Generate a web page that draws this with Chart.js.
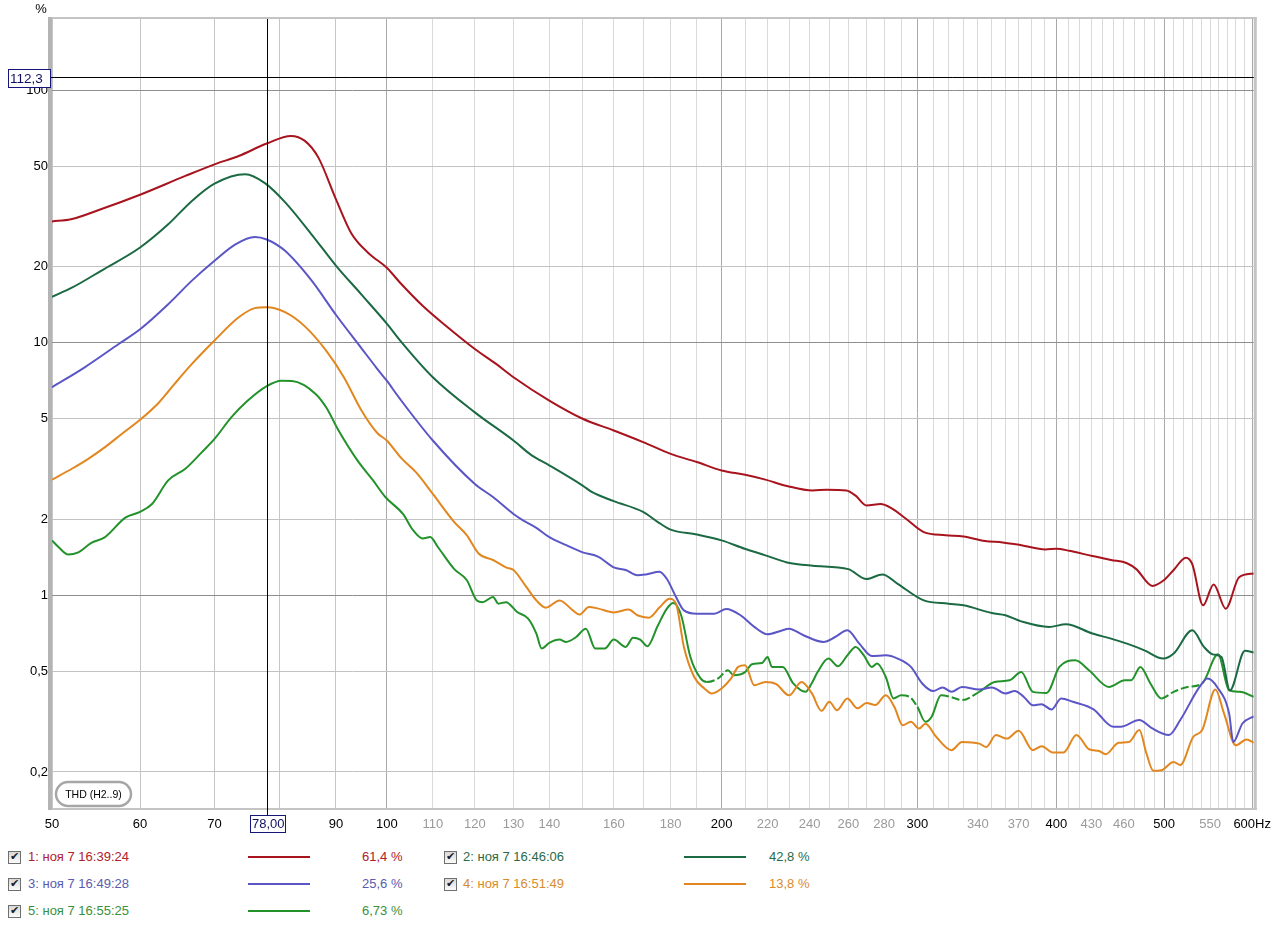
<!DOCTYPE html>
<html>
<head>
<meta charset="utf-8">
<title>THD (H2..9)</title>
<script src="https://cdn.jsdelivr.net/npm/chart.js@4.4.1/dist/chart.umd.min.js"></script>
<style>
  html, body { margin: 0; padding: 0; background: #fff; }
  body { width: 1280px; height: 927px; position: relative; overflow: hidden; font-family: "Liberation Sans", Arial, sans-serif; }
  #wrap { position: absolute; left: 0; top: 0; width: 1280px; height: 840px; }
  .lg { position: absolute; font-size: 13px; line-height: 16px; white-space: nowrap; }
  .cb { position: absolute; width: 11px; height: 11px; border: 1px solid #6f6f6f; background: linear-gradient(#d8d8d8, #fbfbfb); }
  .cb span { position: absolute; left: 1px; top: -3px; font-size: 11px; line-height: 16px; color: #1e1e1e; font-family: "DejaVu Sans", sans-serif; }
  .sw { position: absolute; height: 2px; width: 62px; }
</style>
</head>
<body>
<div id="wrap"><canvas id="thd" width="1280" height="840"></canvas></div>
<div id="legend"></div>
<script>
/* THD vs frequency, 5 measurements, REW-style log/log plot */
var FONT = '"Liberation Sans", Arial, Helvetica, sans-serif';

// 1: ноя 7 16:39:24
var F1 = [50, 52, 55.4, 60, 65.9, 70, 73.6, 78, 82, 84.4, 86.8, 90, 93, 96.3, 100, 103, 107.7, 113, 120, 125.4, 130, 140, 150, 160, 170, 180, 190, 200, 210, 219, 229, 241.5, 248.6, 259, 264, 270, 278, 284, 293, 304, 318, 330, 345, 358, 372, 391, 400, 411, 431, 448, 463, 472, 488, 500, 510, 523, 530, 542, 554, 568, 584, 602];
var V1 = [30.2, 30.8, 33.8, 38.5, 45.7, 50.8, 54.8, 61.4, 65.8, 62.9, 54.0, 37.0, 26.9, 22.6, 19.8, 17.1, 14.0, 11.67, 9.44, 8.24, 7.30, 5.90, 5.00, 4.49, 4.04, 3.63, 3.37, 3.12, 3.00, 2.87, 2.71, 2.60, 2.62, 2.60, 2.48, 2.27, 2.30, 2.22, 2.01, 1.78, 1.73, 1.71, 1.64, 1.62, 1.58, 1.52, 1.53, 1.50, 1.43, 1.38, 1.34, 1.27, 1.09, 1.15, 1.26, 1.41, 1.33, 0.913, 1.105, 0.886, 1.18, 1.22];

// 2: ноя 7 16:46:06
var F2 = [50, 52.1, 55.4, 60, 63.6, 66.8, 70, 74.6, 77.7, 81, 85.6, 90, 94.9, 100, 103, 110, 120, 130, 135, 140, 150, 153, 160, 170, 175.3, 180, 190, 200, 209.8, 219, 229, 241.5, 260, 270, 279, 288, 304, 320, 330, 350, 360, 372, 394, 408, 431, 448, 463, 480, 499, 510, 530, 543, 553, 563, 573, 591, 602];
var V2 = [15.2, 16.5, 19.3, 23.8, 29.4, 36.4, 42.6, 46.4, 42.8, 36.0, 26.8, 20.2, 15.5, 11.9, 10.1, 7.30, 5.30, 4.10, 3.58, 3.27, 2.72, 2.56, 2.36, 2.14, 1.95, 1.82, 1.74, 1.65, 1.53, 1.44, 1.35, 1.31, 1.27, 1.16, 1.21, 1.11, 0.955, 0.927, 0.913, 0.851, 0.834, 0.789, 0.750, 0.768, 0.706, 0.674, 0.644, 0.606, 0.562, 0.588, 0.727, 0.625, 0.584, 0.57, 0.421, 0.603, 0.594];

// 3: ноя 7 16:49:28
var F3 = [50, 53.5, 57.4, 60, 63.6, 66.8, 70, 73.1, 76.1, 78, 81, 85.6, 90, 94.9, 98, 100, 102.6, 110, 120, 124.6, 130, 132.6, 136.3, 140, 145, 150, 155, 160, 164, 168, 171, 175.9, 178.6, 182, 185, 190, 197, 202, 208, 214, 220, 226, 230, 237, 247, 253, 259.5, 266, 273, 281, 288, 296, 303, 310, 316, 322, 329, 341, 350, 360, 367, 374, 381, 388, 396, 404, 414, 432, 450, 457, 475, 487, 505, 517, 538, 547, 558, 572, 577, 588, 602];
var V3 = [6.66, 7.99, 9.88, 11.3, 14.2, 17.6, 21.1, 24.5, 26.2, 25.6, 23.1, 17.6, 12.9, 9.5, 7.9, 7.07, 6.05, 4.10, 2.76, 2.45, 2.10, 1.98, 1.85, 1.70, 1.58, 1.48, 1.42, 1.29, 1.26, 1.20, 1.21, 1.24, 1.16, 0.985, 0.872, 0.846, 0.846, 0.883, 0.834, 0.750, 0.701, 0.723, 0.738, 0.695, 0.654, 0.684, 0.727, 0.644, 0.575, 0.579, 0.562, 0.521, 0.448, 0.418, 0.432, 0.415, 0.434, 0.424, 0.432, 0.409, 0.418, 0.396, 0.367, 0.371, 0.353, 0.391, 0.379, 0.354, 0.302, 0.302, 0.321, 0.299, 0.280, 0.321, 0.434, 0.469, 0.434, 0.341, 0.263, 0.311, 0.332];

// 4: ноя 7 16:51:49
var F4 = [50, 52.1, 53.9, 55.8, 57.8, 60, 62.4, 64.5, 66.8, 70, 73.6, 76.1, 78, 81, 84.4, 88.2, 91.5, 94.9, 98, 100, 103, 106.5, 110, 115, 118, 121, 124.6, 128, 130, 133.5, 136.3, 139, 143, 147, 149, 152, 155, 160, 165, 168, 172, 176, 179.6, 182, 185, 189, 193, 196, 200, 204, 207, 210, 214, 219, 224, 230, 236, 241, 246, 250, 254, 259.5, 265, 270, 275, 281, 286, 291, 296, 301, 305, 312, 322, 329, 341, 346, 353, 361, 370, 381, 388, 397, 406, 417, 428, 437, 443, 455, 465, 475, 482, 489, 497, 510, 517, 531, 541, 556, 566, 580, 593, 602];
var V4 = [2.87, 3.17, 3.47, 3.86, 4.36, 4.95, 5.8, 6.9, 8.24, 10.2, 12.6, 13.7, 13.8, 13.2, 11.6, 9.3, 7.3, 5.39, 4.4, 4.10, 3.5, 3.03, 2.52, 1.95, 1.73, 1.46, 1.38, 1.29, 1.26, 1.08, 0.955, 0.894, 0.955, 0.872, 0.839, 0.899, 0.886, 0.856, 0.878, 0.834, 0.816, 0.899, 0.970, 0.927, 0.625, 0.475, 0.428, 0.409, 0.428, 0.469, 0.521, 0.529, 0.441, 0.454, 0.445, 0.402, 0.454, 0.411, 0.349, 0.379, 0.351, 0.391, 0.357, 0.375, 0.368, 0.402, 0.362, 0.306, 0.316, 0.297, 0.310, 0.275, 0.244, 0.263, 0.259, 0.251, 0.280, 0.271, 0.291, 0.244, 0.253, 0.239, 0.239, 0.280, 0.246, 0.242, 0.235, 0.261, 0.263, 0.293, 0.237, 0.202, 0.203, 0.219, 0.213, 0.275, 0.293, 0.424, 0.341, 0.255, 0.269, 0.261];

// 5: ноя 7 16:55:25
var F5 = [50, 50.7, 51.7, 52.8, 54.2, 55.8, 58.2, 60, 61.5, 63.6, 65.9, 68.2, 70, 72.5, 75, 78, 80.4, 82.2, 86.3, 88.2, 90.5, 94.1, 97.2, 99.7, 103.4, 105.6, 107.7, 109.4, 111.2, 115, 118, 120.5, 122, 124.6, 126, 128, 131, 134, 136.3, 137.8, 140, 143, 145, 148, 151, 154, 157, 160, 164, 166.5, 169, 171.5, 175.3, 178.6, 181, 184, 187.5, 191.5, 194, 198.6, 202.7, 205, 210, 213, 217.5, 220, 222, 227, 232, 238, 241, 244, 249.5, 254.5, 259.5, 264, 268.5, 273, 276, 281, 285.5, 290, 295, 300, 305, 309, 315, 321, 329, 341, 352, 363, 372, 381, 392, 402.5, 416, 428, 446, 461, 467, 476, 486, 497, 510, 525, 541, 559, 572, 585, 602];
var V5 = [1.65, 1.55, 1.45, 1.48, 1.61, 1.70, 2.03, 2.14, 2.30, 2.85, 3.17, 3.69, 4.16, 5.07, 5.90, 6.73, 7.07, 7.05, 6.27, 5.55, 4.49, 3.42, 2.85, 2.45, 2.10, 1.81, 1.68, 1.70, 1.55, 1.27, 1.15, 0.955, 0.94, 0.985, 0.927, 0.94, 0.859, 0.809, 0.706, 0.616, 0.648, 0.668, 0.654, 0.684, 0.738, 0.616, 0.616, 0.668, 0.625, 0.68, 0.668, 0.629, 0.76, 0.886, 0.932, 0.83, 0.570, 0.469, 0.454, 0.469, 0.505, 0.483, 0.497, 0.534, 0.54, 0.57, 0.521, 0.521, 0.448, 0.415, 0.448, 0.497, 0.562, 0.524, 0.579, 0.625, 0.579, 0.521, 0.537, 0.475, 0.391, 0.402, 0.397, 0.362, 0.316, 0.331, 0.402, 0.397, 0.385, 0.415, 0.454, 0.461, 0.497, 0.415, 0.411, 0.521, 0.553, 0.505, 0.434, 0.461, 0.461, 0.521, 0.448, 0.391, 0.415, 0.434, 0.448, 0.584, 0.421, 0.415, 0.397];
// frequency spans where trace 5 is drawn broken
var DASH5 = [[193, 200], [288, 300], [310, 335], [490, 540]];

var NAMES = ["1: ноя 7 16:39:24", "2: ноя 7 16:46:06", "3: ноя 7 16:49:28", "4: ноя 7 16:51:49", "5: ноя 7 16:55:25"];
var AT_CURSOR = ["61,4 %", "42,8 %", "25,6 %", "13,8 %", "6,73 %"];
var LINE_COL = ["#a8141e", "#1c6a44", "#5b56c6", "#e2871f", "#23922b"];
var TEXT_COL = ["#b0202a", "#2a6a4a", "#5a5aae", "#d98c2e", "#3a8f3a"];

var X_GRID = [50, 60, 70, 80, 90, 100, 110, 120, 130, 140, 150, 160, 170, 180, 190, 200, 210, 220, 230, 240, 250, 260, 270, 280, 290, 300, 310, 320, 330, 340, 350, 360, 370, 380, 390, 400, 410, 420, 430, 440, 450, 460, 470, 480, 490, 500, 510, 520, 530, 540, 550, 560, 570, 580, 590, 600];
var X_LABELS = [50, 60, 70, 90, 100, 110, 120, 130, 140, 160, 180, 200, 220, 240, 260, 280, 300, 340, 370, 400, 430, 460, 500, 550, 600];
var X_DARK = [50, 60, 70, 90, 100, 200, 300, 400, 500, 600];
var Y_TICKS = [0.2, 0.5, 1, 2, 5, 10, 20, 50, 100];
var CURSOR_F = 78, CURSOR_V = 112.3;

function pts(f, v) { return f.map(function (x, i) { return { x: x, y: v[i] }; }); }
function inDash(f) {
  for (var i = 0; i < DASH5.length; i++) if (f >= DASH5[i][0] && f < DASH5[i][1]) return true;
  return false;
}

var SERIES = [[F1, V1], [F2, V2], [F3, V3], [F4, V4], [F5, V5]];
var datasets = SERIES.map(function (s, i) {
  var d = { label: NAMES[i], data: pts(s[0], s[1]), borderColor: LINE_COL[i], backgroundColor: LINE_COL[i],
            borderWidth: 2, pointRadius: 0, fill: false, cubicInterpolationMode: "monotone" };
  if (i === 4) d.segment = { borderDash: function (c) { return inDash(c.p0.parsed.x) ? [8, 3] : undefined; } };
  return d;
});

function box(ctx, x, y, w, h, txt, size) {
  ctx.fillStyle = "#fff"; ctx.fillRect(x, y, w, h);
  ctx.strokeStyle = "#15157a"; ctx.lineWidth = 1; ctx.strokeRect(x + 0.5, y + 0.5, w, h);
  ctx.fillStyle = "#101060"; ctx.font = size + "px " + FONT;
  ctx.textAlign = "left"; ctx.textBaseline = "middle";
  ctx.fillText(txt, x + 2, y + h / 2 + 1);
}

var overlay = {
  id: "overlay",
  afterDraw: function (chart) {
    var ctx = chart.ctx, a = chart.chartArea, sx = chart.scales.x, sy = chart.scales.y;
    ctx.save();
    // frame
    ctx.fillStyle = "#c4c4c4"; ctx.fillRect(48, a.top - 2, a.right - 45, 2);
    ctx.fillRect(a.right, a.top - 2, 3, a.bottom - a.top + 4);
    ctx.fillRect(48, a.bottom, a.right - 45, 2);
    ctx.fillStyle = "#b4b4b4"; ctx.fillRect(48, a.top - 2, 4, a.bottom - a.top + 4);
    // THD tag
    ctx.beginPath(); ctx.roundRect(56, 782, 75, 24, 12);
    ctx.fillStyle = "#fff"; ctx.fill(); ctx.lineWidth = 2.5; ctx.strokeStyle = "#a6a6a6"; ctx.stroke();
    ctx.fillStyle = "#000"; ctx.font = "10.5px " + FONT; ctx.textAlign = "center"; ctx.textBaseline = "middle";
    ctx.fillText("THD (H2..9)", 93.5, 795);
    // cursor
    var cx = Math.round(sx.getPixelForValue(CURSOR_F)) + 0.5, cy = Math.round(sy.getPixelForValue(CURSOR_V)) + 0.5;
    ctx.strokeStyle = "#000"; ctx.lineWidth = 1;
    ctx.beginPath(); ctx.moveTo(cx, a.top); ctx.lineTo(cx, 815); ctx.stroke();
    ctx.beginPath(); ctx.moveTo(50, cy); ctx.lineTo(a.right, cy); ctx.stroke();
    box(ctx, 8, Math.round(cy) - 9, 42, 18, "112,3", 13.5);
    box(ctx, Math.round(cx) - 18, 815, 35, 17, "78,00", 13);
    // unit
    ctx.fillStyle = "#000"; ctx.font = "13px " + FONT; ctx.textAlign = "center"; ctx.textBaseline = "middle";
    ctx.fillText("%", 41, 9);
    ctx.restore();
  }
};

new Chart(document.getElementById("thd"), {
  type: "line",
  data: { datasets: datasets },
  plugins: [overlay],
  options: {
    responsive: false, animation: false, devicePixelRatio: 1,
    layout: { padding: { top: 19, right: 25, left: 0, bottom: 0 } },
    plugins: { legend: { display: false }, tooltip: { enabled: false } },
    scales: {
      x: {
        type: "logarithmic", min: 50, max: 602,
        afterBuildTicks: function (s) { s.ticks = X_GRID.map(function (v) { return { value: v }; }); },
        afterFit: function (s) { s.height = 32; },
        border: { display: false },
        grid: {
          drawTicks: false, lineWidth: 1,
          color: function (c) {
            var v = c.tick ? c.tick.value : 0;
            if (v % 100 === 0) return "#a9a9a9";
            if (v < 100) return "#c6c6c6";
            return "#dadada";
          }
        },
        ticks: {
          autoSkip: false, maxRotation: 0, minRotation: 0, padding: 9,
          font: { family: FONT, size: 13 },
          color: function (c) { return X_DARK.indexOf(c.tick.value) >= 0 ? "#000" : "#9a9a9a"; },
          callback: function (v) {
            if (X_LABELS.indexOf(v) < 0) return "";
            return v === 600 ? "600Hz" : String(v);
          }
        }
      },
      y: {
        type: "logarithmic", min: 0.144, max: 191,
        afterBuildTicks: function (s) { s.ticks = Y_TICKS.map(function (v) { return { value: v }; }); },
        afterFit: function (s) { s.width = 52; },
        border: { display: false },
        grid: {
          drawTicks: false, lineWidth: 1,
          color: function (c) {
            var v = c.tick ? c.tick.value : 0;
            return (v === 1 || v === 10 || v === 100) ? "#8e8e8e" : "#c2c2c2";
          }
        },
        ticks: {
          padding: 4, font: { family: FONT, size: 13 }, color: "#000",
          callback: function (v) { return String(v).replace(".", ","); }
        }
      }
    }
  }
});

// legend table under the plot
var SLOTS = [[0, 0], [1, 0], [0, 1], [1, 1], [0, 2]];
var COLX = [[8, 28, 248, 362], [444, 463, 684, 769]];
var ROWY = [857, 884, 911];
var lg = document.getElementById("legend"), html = "";
SLOTS.forEach(function (p, i) {
  var c = COLX[p[0]], y = ROWY[p[1]];
  html += '<div class="cb" style="left:' + c[0] + 'px;top:' + (y - 6) + 'px"><span>\u2714</span></div>';
  html += '<div class="lg" style="left:' + c[1] + 'px;top:' + (y - 8) + 'px;color:' + TEXT_COL[i] + '">' + NAMES[i] + '</div>';
  html += '<div class="sw" style="left:' + c[2] + 'px;top:' + (y - 1) + 'px;background:' + LINE_COL[i] + '"></div>';
  html += '<div class="lg" style="left:' + c[3] + 'px;top:' + (y - 8) + 'px;color:' + TEXT_COL[i] + '">' + AT_CURSOR[i] + '</div>';
});
lg.innerHTML = html;
</script>
</body>
</html>
